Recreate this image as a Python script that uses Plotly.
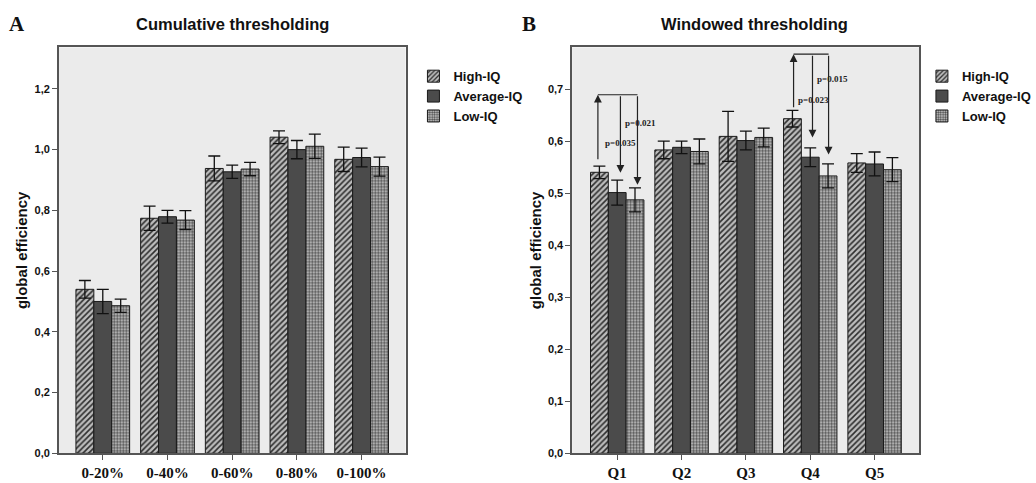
import plotly.graph_objects as go

# ---------------- data ----------------
groups = ["High-IQ", "Average-IQ", "Low-IQ"]

cats_a = ["0-20%", "0-40%", "0-60%", "0-80%", "0-100%"]
a_high = [0.540, 0.774, 0.938, 1.041, 0.968]
a_avg = [0.500, 0.779, 0.927, 1.000, 0.974]
a_low = [0.486, 0.768, 0.936, 1.011, 0.944]
a_high_err = [0.029, 0.040, 0.041, 0.021, 0.040]
a_avg_err = [0.040, 0.021, 0.022, 0.030, 0.031]
a_low_err = [0.022, 0.031, 0.022, 0.040, 0.031]

cats_b = ["Q1", "Q2", "Q3", "Q4", "Q5"]
b_high = [0.540, 0.583, 0.609, 0.643, 0.558]
b_avg = [0.501, 0.588, 0.601, 0.569, 0.556]
b_low = [0.487, 0.580, 0.607, 0.533, 0.545]
b_high_err = [0.012, 0.017, 0.048, 0.016, 0.018]
b_avg_err = [0.024, 0.012, 0.018, 0.018, 0.023]
b_low_err = [0.023, 0.024, 0.018, 0.023, 0.023]

p_labels = ["p=0.035", "p=0.021", "p=0.023", "p=0.015"]

# ---------------- styles ----------------
styles = {
    "High-IQ": dict(color="#bdbdbd",
                    pattern=dict(shape="/", fgcolor="#2e2e2e", bgcolor="#bdbdbd",
                                 size=4, solidity=0.4, fillmode="replace")),
    "Average-IQ": dict(color="#4b4b4b"),
    "Low-IQ": dict(color="#b0b0b0",
                   pattern=dict(shape=".", fgcolor="#4a4a4a", bgcolor="#cfcfcf",
                                size=3, solidity=0.5, fillmode="replace")),
}

fig = go.Figure()


def add_panel(cats, vals, errs, xa, ya, legend):
    for g, v, e in zip(groups, vals, errs):
        st = styles[g]
        marker = dict(color=st["color"], line=dict(color="#1a1a1a", width=1))
        if "pattern" in st:
            marker["pattern"] = st["pattern"]
        fig.add_trace(go.Bar(
            x=cats, y=v, name=g, marker=marker,
            error_y=dict(type="data", array=e, color="#111111", thickness=1.3, width=6),
            xaxis=xa, yaxis=ya, legend=legend, offsetgroup=g,
        ))


add_panel(cats_a, [a_high, a_avg, a_low], [a_high_err, a_avg_err, a_low_err], "x", "y", "legend")
add_panel(cats_b, [b_high, b_avg, b_low], [b_high_err, b_avg_err, b_low_err], "x2", "y2", "legend2")

W, H = 1036, 483
ydom = [1 - 459 / H, 1 - 48 / H]
axis_common = dict(showline=True, mirror=True, linecolor="#555555", linewidth=1.5,
                   showgrid=False, zeroline=False, ticks="outside", ticklen=5,
                   tickcolor="#555555")

fig.update_layout(
    width=W, height=H, margin=dict(l=0, r=0, t=0, b=0),
    paper_bgcolor="white", plot_bgcolor="#ebebeb",
    barmode="group", bargap=0.17, bargroupgap=0,
    separators=",.",
    font=dict(family="Liberation Sans, Arial", color="#111111"),
    xaxis=dict(domain=[60 / W, 414 / W], range=[-0.68, 4.68], anchor="y",
               tickfont=dict(family="Liberation Serif", size=15, weight="bold"), **axis_common),
    yaxis=dict(domain=ydom, range=[0, 1.3366], anchor="x", dtick=0.2, tickformat=".1f",
               tickfont=dict(size=11, weight="bold"),
               title=dict(text="global efficiency", font=dict(size=15, weight="bold"), standoff=3),
               **axis_common),
    xaxis2=dict(domain=[584 / W, 938 / W], range=[-0.70, 4.69], anchor="y2",
                tickfont=dict(family="Liberation Serif", size=15, weight="bold"), **axis_common),
    yaxis2=dict(domain=ydom, range=[0, 0.780], anchor="x2", dtick=0.1, tickformat=".1f",
                tickfont=dict(size=11, weight="bold"),
                title=dict(text="global efficiency", font=dict(size=15, weight="bold"), standoff=3),
                **axis_common),
    legend=dict(x=422 / W, y=1 - 62 / H, xanchor="left", yanchor="top",
                font=dict(size=13, weight="bold"), bgcolor="rgba(0,0,0,0)",
                tracegroupgap=0, itemwidth=30),
    legend2=dict(x=941 / W, y=1 - 62 / H, xanchor="left", yanchor="top",
                 font=dict(size=13, weight="bold"), bgcolor="rgba(0,0,0,0)",
                 tracegroupgap=0, itemwidth=30),
)

ann = []
# panel letters and titles
for txt, px, fnt in [("A", 17, dict(family="Liberation Serif", size=21, weight="bold")),
                     ("B", 540, dict(family="Liberation Serif", size=21, weight="bold")),
                     ("Cumulative thresholding", 237, dict(size=16.5, weight="bold")),
                     ("Windowed thresholding", 770, dict(size=16.5, weight="bold"))]:
    ann.append(dict(text=txt, x=px / W, y=1 - 24 / H, xref="paper", yref="paper",
                    xanchor="center", yanchor="middle", showarrow=False, font=fnt))

shapes = []


def bracket(x_up, y_up0, x_d1, y_d1, x_d2, y_d2, y_top):
    shapes.append(dict(type="line", xref="x2", yref="y2", x0=x_up, x1=x_d2, y0=y_top, y1=y_top,
                       line=dict(color="#222222", width=1.2)))
    for (xh, yh, xt, yt) in [(x_up, y_top, x_up, y_up0), (x_d1, y_d1, x_d1, y_top), (x_d2, y_d2, x_d2, y_top)]:
        ann.append(dict(x=xh, y=yh, ax=xt, ay=yt, xref="x2", yref="y2", axref="x2", ayref="y2",
                        text="", showarrow=True, arrowhead=2, arrowsize=1.3, arrowwidth=1.2,
                        arrowcolor="#222222"))


bracket(-0.30, 0.562, 0.05, 0.539, 0.315, 0.516, 0.689)
bracket(2.741, 0.662, 3.035, 0.607, 3.285, 0.574, 0.767)

pfont = dict(family="Liberation Serif", size=9, weight="bold", color="#222222")
for txt, (px, py) in zip(p_labels, [(0.05, 0.597), (0.36, 0.635), (3.05, 0.679), (3.35, 0.719)]):
    ann.append(dict(text=txt, x=px, y=py, xref="x2", yref="y2", showarrow=False, font=pfont))

fig.update_layout(annotations=ann, shapes=shapes)

fig.write_html("out.html")
